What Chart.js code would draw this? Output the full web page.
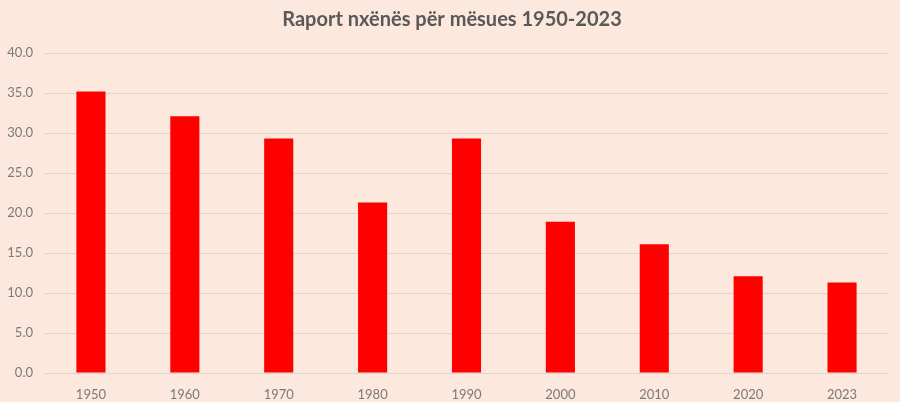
<!DOCTYPE html>
<html>
<head>
<meta charset="utf-8">
<script src="https://cdn.jsdelivr.net/npm/chart.js@4/dist/chart.umd.min.js"></script>
<style>
  html, body { margin: 0; padding: 0; background: #fce8dc; }
  #wrap { width: 900px; height: 402px; }
</style>
</head>
<body>
<div id="wrap"><canvas id="ratio-chart" width="900" height="402"></canvas></div>
<script>
const YEARS = ["1950", "1960", "1970", "1980", "1990", "2000", "2010", "2020", "2023"];
const RATIOS = [35.2, 32.1, 29.3, 21.3, 29.3, 18.9, 16.1, 12.1, 11.3];
const Y_TICKS = [0, 5, 10, 15, 20, 25, 30, 35, 40];

const TITLE = "Raport nxënës për mësues 1950-2023";
const BAR_COLOR = "#ff0000";
const GRID_COLOR = "#dcd4cf";
const TICK_COLOR = "#7a7a7a";
const FONT = "Lato, 'Open Sans', sans-serif";

const ctx = document.getElementById("ratio-chart").getContext("2d");
new Chart(ctx, {
  type: "bar",
  data: {
    labels: YEARS,
    datasets: [{
      label: TITLE,
      data: RATIOS,
      backgroundColor: BAR_COLOR,
      borderWidth: 0,
      categoryPercentage: 1,
      barPercentage: 0.31,
    }],
  },
  options: {
    responsive: false,
    animation: false,
    // left pad 4 so the title centre sits at x=452 like the original
    layout: { padding: { left: 4, right: 0, top: 0, bottom: 0 } },
    plugins: {
      legend: { display: false },
      tooltip: { enabled: false },
      title: {
        display: true,
        text: TITLE,
        color: "#595959",
        font: { family: FONT, size: 20, weight: "bold", lineHeight: 1.2 },
        padding: { top: 8, bottom: 21 },
      },
    },
    scales: {
      x: {
        grid: { display: false },
        border: { display: false },
        ticks: { color: TICK_COLOR, font: { family: FONT, size: 13 }, padding: 6 },
        afterFit: s => { s.height = 29; },
      },
      y: {
        min: 0,
        max: 40,
        afterBuildTicks: s => { s.ticks = Y_TICKS.map(v => ({ value: v })); },
        grid: { color: GRID_COLOR, lineWidth: 1, drawTicks: false },
        border: { display: false },
        ticks: {
          color: TICK_COLOR,
          font: { family: FONT, size: 13 },
          padding: 11,
          callback: v => v.toFixed(1),
        },
        afterFit: s => { s.width = 40; },
      },
      // empty spacer on the right
      yRight: {
        type: "linear",
        position: "right",
        grid: { display: false },
        border: { display: false },
        ticks: { display: false },
        afterFit: s => { s.width = 11; },
      },
    },
  },
});
</script>
</body>
</html>
